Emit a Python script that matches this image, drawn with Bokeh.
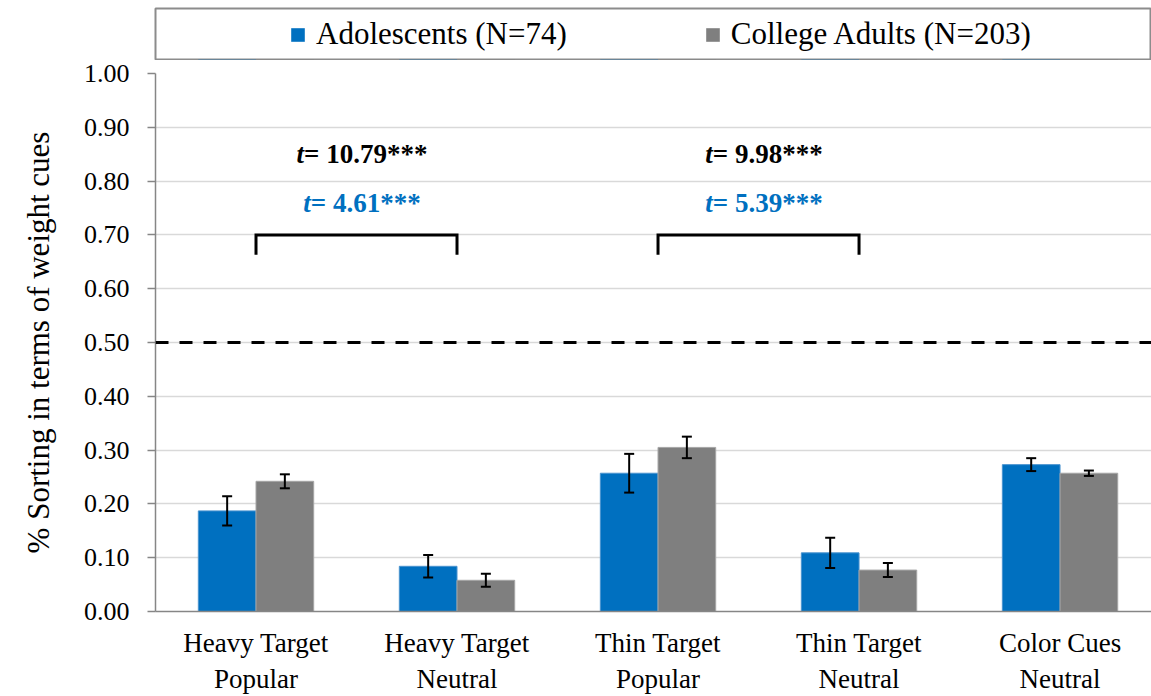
import numpy as np
from bokeh.plotting import figure
from bokeh.models import (ColumnDataSource, Range1d, FixedTicker, NumeralTickFormatter,
                          Whisker, TeeHead, Span, Legend, LegendItem)
from bokeh.transform import dodge
from bokeh.layouts import column
from bokeh.core.properties import value
from bokeh.embed import file_html
from bokeh.resources import INLINE

# ---------------- data ----------------
categories = ["Heavy Target\nPopular", "Heavy Target\nNeutral", "Thin Target\nPopular",
              "Thin Target\nNeutral", "Color Cues\nNeutral"]
series_names = ["Adolescents (N=74)", "College Adults (N=203)"]
adolescents = [0.187, 0.084, 0.257, 0.109, 0.273]
adolescents_err = [0.027, 0.021, 0.036, 0.028, 0.012]
college = [0.242, 0.058, 0.305, 0.077, 0.257]
college_err = [0.013, 0.012, 0.020, 0.013, 0.005]
y_ticks = [0.0, 0.1, 0.2, 0.3, 0.4, 0.5, 0.6, 0.7, 0.8, 0.9, 1.0]
chance_level = 0.50
bracket_pairs = [(0, 1), (2, 3)]
bracket_top = 0.70
bracket_leg = 0.663
t_college = ["10.79", "9.98"]
t_adolescents = ["4.61", "5.39"]
t_stars = "***"
t_college_y = 0.85
t_adolescents_y = 0.76

# ---------------- style ----------------
BLUE = "#0070C0"
GRAY = "#7F7F7F"
AXIS = "#868686"
GRID = "#D9D9D9"
FONT = "'Liberation Serif', 'DejaVu Serif', serif"
W = 1151
FL = 155
BW = 0.287
OFF = 0.1435

n = len(categories)
xs = list(range(n))
src = ColumnDataSource(dict(
    x=xs,
    adol=adolescents,
    adol_lo=[v - e for v, e in zip(adolescents, adolescents_err)],
    adol_hi=[v + e for v, e in zip(adolescents, adolescents_err)],
    col=college,
    col_lo=[v - e for v, e in zip(college, college_err)],
    col_hi=[v + e for v, e in zip(college, college_err)],
))

x_range = Range1d(-0.5, 4.455)

p = figure(width=W, height=636, x_range=x_range, y_range=Range1d(0, 1),
           output_backend="svg", toolbar_location=None,
           min_border_left=FL, min_border_right=0, min_border_top=13, min_border_bottom=85)
p.outline_line_color = None
p.background_fill_color = "white"

p.vbar(x=dodge("x", -OFF), top="adol", width=BW, source=src,
       fill_color=BLUE, line_color="#4A93CF", line_width=1)
p.vbar(x=dodge("x", OFF), top="col", width=BW, source=src,
       fill_color=GRAY, line_color="#A6A6A6", line_width=1)

for base, lo, hi in [(dodge("x", -OFF), "adol_lo", "adol_hi"), (dodge("x", OFF), "col_lo", "col_hi")]:
    w = Whisker(base=base, lower=lo, upper=hi, source=src, line_color="black", line_width=2,
                level="overlay",
                upper_head=TeeHead(size=10, line_color="black", line_width=2),
                lower_head=TeeHead(size=10, line_color="black", line_width=2))
    p.add_layout(w)

p.add_layout(Span(location=chance_level, dimension="width", line_color="black",
                  line_width=3, line_dash="13 11"))

bxs = [[l, l, r, r] for l, r in bracket_pairs]
bys = [[bracket_leg, bracket_top, bracket_top, bracket_leg] for _ in bracket_pairs]
p.multi_line(xs=bxs, ys=bys, line_color="black", line_width=3, line_join="miter")

mids = [(l + r) / 2 for l, r in bracket_pairs]
for vals, yv, color in [(t_college, t_college_y, "black"), (t_adolescents, t_adolescents_y, BLUE)]:
    rest = ["= " + v + t_stars for v in vals]
    dx = [15 - 6.75 * len(s) for s in rest]
    ts = ColumnDataSource(dict(x=mids, y=[yv] * len(vals), t=["t"] * len(vals), rest=rest, dx=dx))
    p.text(x="x", y="y", text="t", source=ts, x_offset="dx", text_align="right",
           text_baseline="middle", text_font=value(FONT), text_font_style="bold italic",
           text_font_size="27px", text_color=color)
    p.text(x="x", y="y", text="rest", source=ts, x_offset="dx", text_align="left",
           text_baseline="middle", text_font=value(FONT), text_font_style="bold",
           text_font_size="27px", text_color=color)

# axes
p.yaxis.ticker = FixedTicker(ticks=y_ticks)
p.yaxis.formatter = NumeralTickFormatter(format="0.00")
p.yaxis.major_label_text_font = FONT
p.yaxis.major_label_text_font_size = "26px"
p.yaxis.major_label_text_color = "black"
p.yaxis.major_label_standoff = 18
p.yaxis.axis_label = "% Sorting in terms of weight cues"
p.yaxis.axis_label_text_font = FONT
p.yaxis.axis_label_text_font_size = "31px"
p.yaxis.axis_label_text_font_style = "normal"
p.yaxis.axis_label_text_color = "black"
p.yaxis.axis_label_standoff = 25
p.yaxis.major_tick_out = 8
p.yaxis.major_tick_in = 0
p.yaxis.minor_tick_out = 0
p.yaxis.minor_tick_in = 0
p.yaxis.axis_line_color = AXIS
p.yaxis.axis_line_width = 1.5
p.yaxis.major_tick_line_color = AXIS
p.yaxis.major_tick_line_width = 1.5

p.xaxis.ticker = FixedTicker(ticks=xs)
p.xaxis.major_label_overrides = {i: c for i, c in zip(xs, categories)}
p.xaxis.major_label_text_font = FONT
p.xaxis.major_label_text_font_size = "27px"
p.xaxis.major_label_text_color = "black"
p.xaxis.major_label_standoff = 16
p.xaxis.major_tick_out = 0
p.xaxis.major_tick_in = 0
p.xaxis.minor_tick_out = 0
p.xaxis.minor_tick_in = 0
p.xaxis.axis_line_color = AXIS
p.xaxis.axis_line_width = 1.5

p.xgrid.visible = False
p.ygrid.ticker = FixedTicker(ticks=y_ticks)
p.ygrid.grid_line_color = GRID
p.ygrid.grid_line_width = 1.5

# legend strip (its bars sit far outside the strip's visible y-range; only the legend shows)
pl = figure(width=W, height=60, x_range=x_range, y_range=Range1d(100, 101),
            output_backend="svg", toolbar_location=None,
            x_axis_location=None, y_axis_location=None,
            min_border_left=FL, min_border_right=0, min_border_top=8, min_border_bottom=1)
pl.grid.visible = False
pl.outline_line_color = "#8C8C8C"
pl.outline_line_width = 2
r1 = pl.vbar(x=dodge("x", -OFF), top="adol", width=BW, source=src, fill_color=BLUE, line_color=None)
r2 = pl.vbar(x=dodge("x", OFF), top="col", width=BW, source=src, fill_color=GRAY, line_color=None)
legend = Legend(items=[LegendItem(label=series_names[0], renderers=[r1]),
                       LegendItem(label=series_names[1], renderers=[r2])],
                location=(134, 7), orientation="horizontal",
                border_line_color=None, background_fill_alpha=0,
                padding=0, margin=0, spacing=137, label_standoff=10,
                glyph_width=17, glyph_height=17,
                label_text_font=FONT, label_text_font_size="31px", label_text_color="black")
pl.add_layout(legend, "center")

layout = column(pl, p, spacing=0)
open("out.html", "w").write(file_html(layout, INLINE))
